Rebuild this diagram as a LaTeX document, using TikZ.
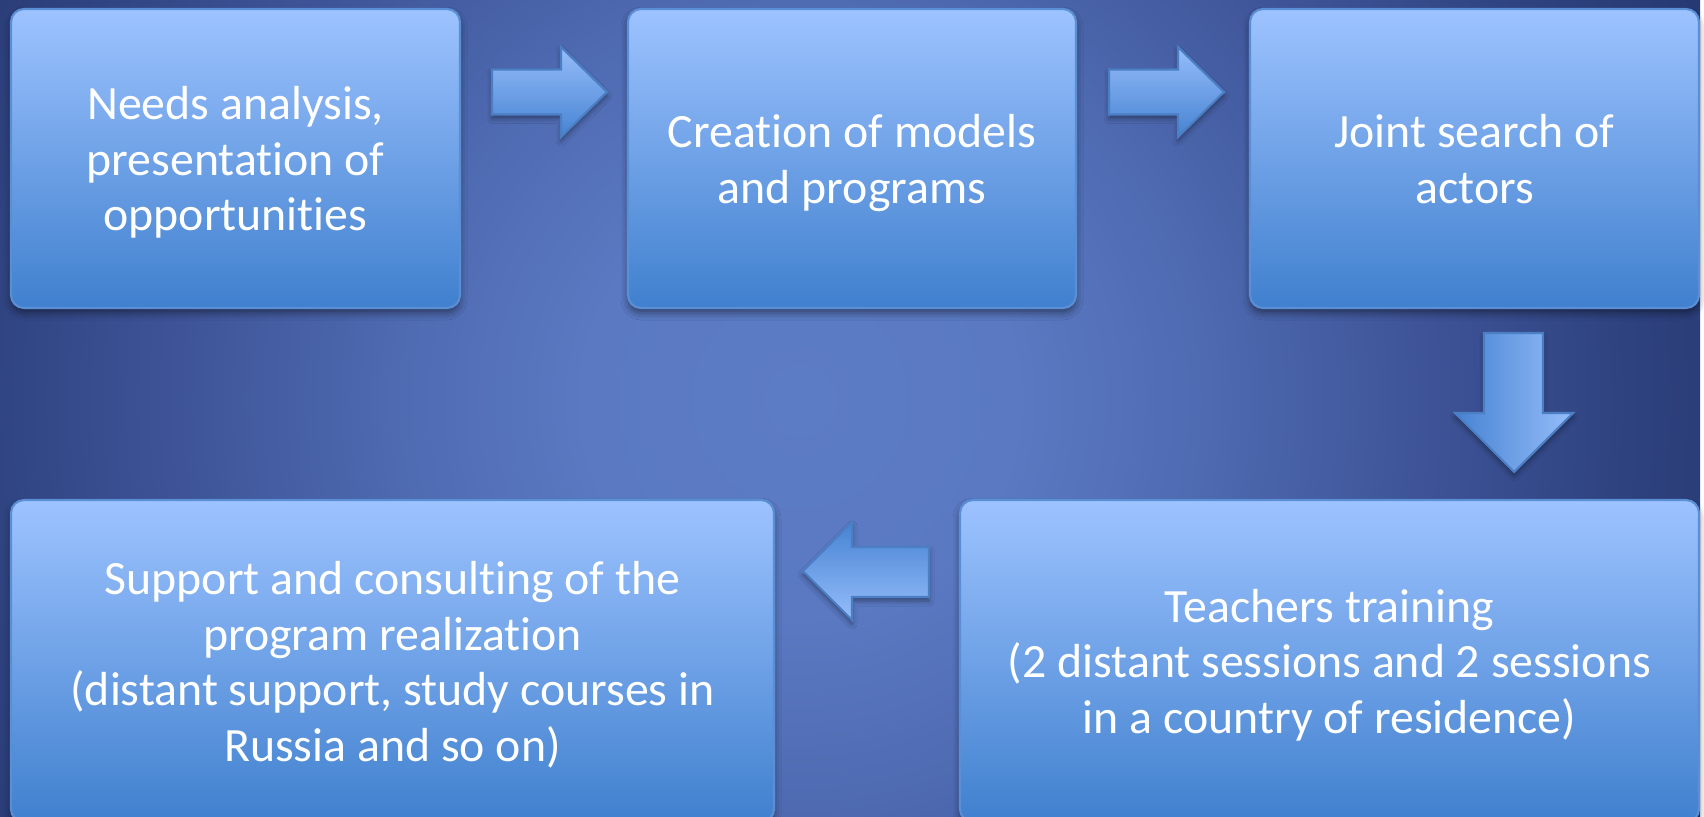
\documentclass[tikz,border=0pt]{standalone}
\usepackage{fontspec}
\setmainfont{Carlito}[Ligatures=NoCommon]
\usetikzlibrary{shadows.blur}

\definecolor{bgin}{HTML}{5C7CC5}
\definecolor{bgsoft}{HTML}{5A79C2}
\definecolor{bgmid}{HTML}{4F6BB2}
\definecolor{bgdeep}{HTML}{3F5599}
\definecolor{bgout}{HTML}{2E427F}
\definecolor{bgcorner}{HTML}{22336C}
\definecolor{boxtop}{HTML}{9DC3FF}
\definecolor{boxmid}{HTML}{77A4EA}
\definecolor{boxbot}{HTML}{4080CE}
\definecolor{boxline}{HTML}{5B8FD5}
\definecolor{arrlight}{HTML}{96BDFA}
\definecolor{arrdark}{HTML}{4683D2}
\definecolor{arrline}{HTML}{4C7EC4}

\pgfdeclareradialshading{slidebg}{\pgfpoint{0bp}{0bp}}{color(0bp)=(bgin); color(6bp)=(bgsoft); color(11bp)=(bgmid); color(17bp)=(bgdeep); color(23bp)=(bgout); color(30bp)=(bgcorner); color(50bp)=(bgcorner)}

% extra room above the first line, so the text sits a bit lower
\newcommand{\topgap}{\rule{0pt}{14.3pt}}

\tikzset{
  stagebox/.style={rectangle, rounded corners=0.13cm, draw=boxline, line width=0.6pt,
    top color=boxtop, middle color=boxmid, bottom color=boxbot, text=white, align=center,
    inner sep=0pt, font=\fontsize{13.6}{15.8}\selectfont,
    execute at end node=\strut,
    blur shadow={shadow xshift=0pt, shadow yshift=-0.05cm, shadow blur radius=0.07cm, shadow opacity=45}},
  blockarrow/.style={draw=arrline, line width=0.6pt, line join=miter,
    blur shadow={shadow xshift=0pt, shadow yshift=-0.04cm, shadow blur radius=0.05cm, shadow opacity=40}}
}

\begin{document}
\begin{tikzpicture}[x=1cm, y=-1cm]
	%%%%% BACKGROUND %%%%%
	\useasboundingbox (0,0) rectangle (17.04,8.16);
	\clip (0,0) rectangle (17.04,8.16);
	\shade[shading=slidebg] (-1,-5) rectangle (17,13);

	%%%%% STAGES %%%%%
	\node[stagebox, minimum width=4.49cm, minimum height=2.99cm] (needs) at (2.355,1.585) {\topgap Needs analysis,\\presentation of\\opportunities};
	\node[stagebox, minimum width=4.48cm, minimum height=2.99cm] (models) at (8.52,1.585) {\topgap Creation of models\\and programs};
	\node[stagebox, minimum width=4.49cm, minimum height=2.99cm] (actors) at (14.745,1.585) {\topgap Joint search of\\actors};

	\node[stagebox, minimum width=7.39cm, minimum height=3.22cm] (training) at (13.295,6.61) {\topgap Teachers training\\(2 distant sessions and 2 sessions\\in a country of residence)};
	\node[stagebox, minimum width=7.63cm, minimum height=3.22cm] (support) at (3.925,6.61) {\topgap Support and consulting of the\\program realization\\(distant support, study courses in\\Russia and so on)};

	%%%%% ARROWS %%%%%
	% needs -> models
	\draw[blockarrow, top color=arrlight, bottom color=arrdark] (4.92,0.695) -- (5.61,0.695) -- (5.61,0.47) -- (6.07,0.92) -- (5.61,1.37) -- (5.61,1.145) -- (4.92,1.145) -- cycle;
	% models -> actors
	\draw[blockarrow, top color=arrlight, bottom color=arrdark] (11.09,0.695) -- (11.78,0.695) -- (11.78,0.47) -- (12.24,0.92) -- (11.78,1.37) -- (11.78,1.145) -- (11.09,1.145) -- cycle;
	% actors -> training
	\draw[blockarrow, left color=arrdark, right color=arrlight] (14.84,3.33) -- (15.43,3.33) -- (15.43,4.13) -- (15.73,4.13) -- (15.14,4.72) -- (14.55,4.13) -- (14.84,4.13) -- cycle;
	% training -> support
	\draw[blockarrow, top color=arrdark, bottom color=arrlight] (9.29,5.47) -- (8.52,5.47) -- (8.52,5.22) -- (8.03,5.71) -- (8.52,6.20) -- (8.52,5.97) -- (9.29,5.97) -- cycle;
\end{tikzpicture}
\end{document}
